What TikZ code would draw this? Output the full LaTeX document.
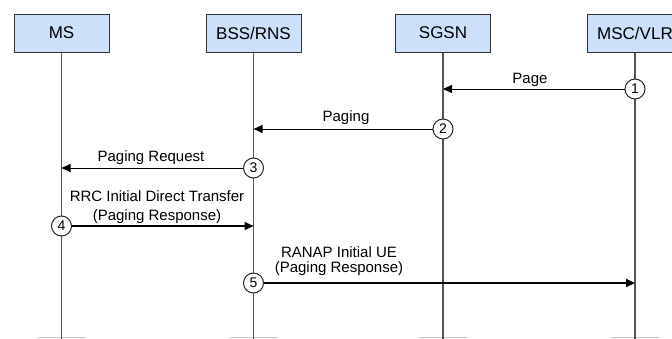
\documentclass[tikz,border=0pt]{standalone}
\usepackage{fontspec}
\setmainfont{Liberation Sans}
\usetikzlibrary{arrows.meta,positioning,calc}
\definecolor{boxblue}{HTML}{CCE0FA}
\definecolor{lifegrey}{HTML}{555555}
\definecolor{stubgrey}{HTML}{C4C4C4}
\tikzset{
  entity/.style={draw=black!80,fill=boxblue,line width=1pt,minimum width=95pt,
    minimum height=38pt,inner sep=0pt,font=\fontsize{17}{20}\selectfont},
  lifeline/.style={lifegrey,line width=1.3pt},
  msgnum/.style={circle,draw=black!85,fill=white,line width=1pt,minimum size=20pt,
    inner sep=0pt,font=\fontsize{14}{16}\selectfont},
  msglabel/.style={font=\fontsize{15}{16}\selectfont,align=center,inner sep=0pt},
  msg/.style={black,line width=1pt,-{Triangle[length=9pt,width=8pt]}},
  msgbold/.style={msg,line width=2pt}
}
\begin{document}
\begin{tikzpicture}[x=1pt,y=-1pt]
  \useasboundingbox (0,0) rectangle (672,338);
  \clip (0,0) rectangle (672,338);

  % entities
  \node[entity] (ms) at (61.5,33) {MS};
  \node[entity] (bss) at (253.5,33) {BSS/RNS};
  \node[entity] (sgsn) at (443,33) {SGSN};
  \node[entity] (msc) at (635,33) {MSC/VLR};

  \foreach \e in {ms,bss,sgsn,msc}{
    \coordinate (\e-end) at (\e.south |- 0,345);
    \draw[stubgrey,line width=1pt] ($(\e-end)+(-24,-7.5)$) -- ++(48,0);
    \draw[lifeline] (\e.south) -- (\e-end);
  }

  % message rows
  \coordinate (r1) at (0,89);
  \coordinate (r2) at (0,129);
  \coordinate (r3) at (0,168);
  \coordinate (r4) at (0,226);
  \coordinate (r5) at (0,283);

  \node[msgnum] (n1) at (msc |- r1) {1};
  \node[msgnum] (n2) at (sgsn |- r2) {2};
  \node[msgnum] (n3) at (bss |- r3) {3};
  \node[msgnum] (n4) at (ms |- r4) {4};
  \node[msgnum] (n5) at (bss |- r5) {5};

  \coordinate (t1) at (sgsn |- n1);
  \coordinate (t2) at (bss |- n2);
  \coordinate (t3) at (ms |- n3);
  \coordinate (t4) at (bss |- n4);
  \coordinate (t5) at (msc |- n5);

  \draw[msg] (n1) -- (t1);
  \draw[msg] (n2) -- (t2);
  \draw[msg] (n3) -- (t3);
  \draw[msgbold] (n4) -- (t4);
  \draw[msgbold] (n5) -- (t5);

  % labels
  \node[msglabel] (l1) at (530,80) {Page};
  \node[msglabel] (l2) at (346,118) {Paging};
  \node[msglabel] (l3) at (151,158) {Paging Request};
  \node[msglabel] (l4) at (157,207) {RRC Initial Direct Transfer\\[3pt](Paging Response)};
  \node[msglabel] (l5) at (339,261) {RANAP Initial UE\\[-0.5pt](Paging Response)};
\end{tikzpicture}
\end{document}
